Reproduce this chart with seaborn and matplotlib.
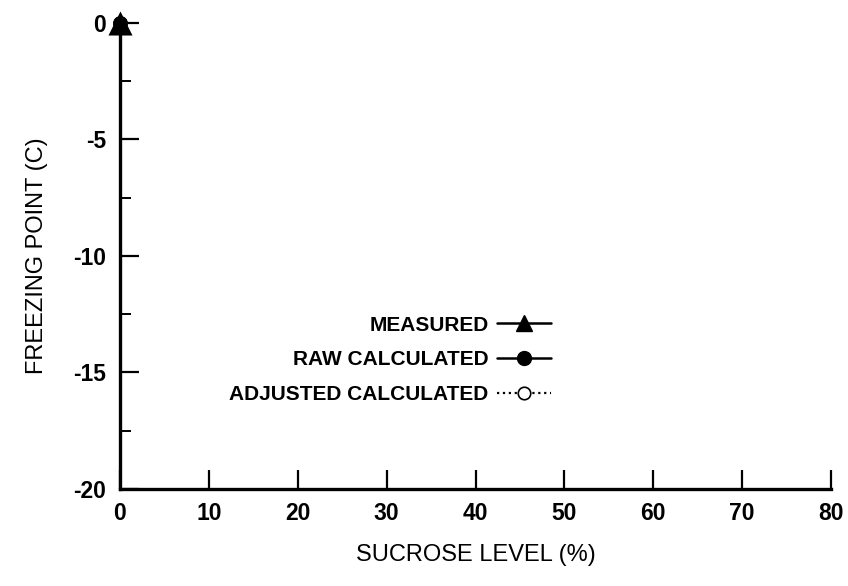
import matplotlib
matplotlib.use('Agg')
import matplotlib.pyplot as plt
import seaborn as sns
import pandas as pd
from matplotlib.lines import Line2D

# === DATA ===
sucrose_measured = [0]
fp_measured = [0]
sucrose_raw = [0]
fp_raw = [0]
sucrose_adjusted = [0]
fp_adjusted = [0]

series_labels = ["MEASURED", "RAW CALCULATED", "ADJUSTED CALCULATED"]
x_ticks = [0, 10, 20, 30, 40, 50, 60, 70, 80]
y_ticks = [0, -5, -10, -15, -20]
y_minor = [-2.5, -7.5, -12.5, -17.5]

sns.set_theme(style='ticks')
plt.rcParams['font.family'] = ['Liberation Sans', 'DejaVu Sans']
plt.rcParams.update({'text.color': 'black', 'axes.labelcolor': 'black',
                     'xtick.color': 'black', 'ytick.color': 'black'})

fig = plt.figure(figsize=(8.48, 5.86), dpi=100)
ax = fig.add_axes([0.1415, 0.1655, 0.8385, 0.7955])

df_raw = pd.DataFrame({"x": sucrose_raw, "y": fp_raw})
df_meas = pd.DataFrame({"x": sucrose_measured, "y": fp_measured})
df_adj = pd.DataFrame({"x": sucrose_adjusted, "y": fp_adjusted})

sns.scatterplot(data=df_adj, x="x", y="y", ax=ax, marker='o', s=90,
                facecolor='white', edgecolor='black', linewidth=1.2, clip_on=False, zorder=3)
sns.scatterplot(data=df_raw, x="x", y="y", ax=ax, marker='o', s=110,
                color='black', linewidth=0, clip_on=False, zorder=4)
sns.scatterplot(data=df_meas, x="x", y="y", ax=ax, marker='^', s=300,
                color='black', linewidth=0, clip_on=False, zorder=5)

ax.set_xlim(0, 80)
ax.set_ylim(-20, 0)
ax.set_xticks(x_ticks)
ax.set_yticks(y_ticks)
ax.set_yticks(y_minor, minor=True)
ax.set_xticklabels([str(t) for t in x_ticks], fontsize=16.5, fontweight='bold')
ax.set_yticklabels([str(t) for t in y_ticks], fontsize=16.5, fontweight='bold')
ax.tick_params(axis='x', which='major', direction='in', length=14, width=1.6, pad=9)
ax.tick_params(axis='y', which='major', direction='in', length=14, width=1.6, pad=10)
ax.tick_params(axis='y', which='minor', direction='in', length=8, width=1.4)

for side in ['top', 'right']:
    ax.spines[side].set_visible(False)
for side in ['left', 'bottom']:
    ax.spines[side].set_linewidth(2.4)
    ax.spines[side].set_color('black')

ax.set_xlabel("SUCROSE LEVEL (%)", fontsize=17, labelpad=14)
ax.set_ylabel("FREEZING POINT (C)", fontsize=17, labelpad=18)

handles = [
    Line2D([], [], color='black', lw=1.8, marker='^', markersize=11),
    Line2D([], [], color='black', lw=1.8, marker='o', markersize=10),
    Line2D([], [], color='black', lw=1.6, ls=':', marker='o', markersize=9,
           markerfacecolor='white', markeredgewidth=1.2),
]
leg = ax.legend(handles, series_labels, loc='center right', frameon=False,
                markerfirst=False, bbox_to_anchor=(0.662, 0.386),
                bbox_transform=fig.transFigure, borderpad=0, handlelength=2.6,
                handletextpad=0.4, labelspacing=0.75,
                prop={'size': 15, 'weight': 'bold',
                      'family': ['Liberation Sans Narrow', 'Liberation Sans']})

fig.savefig("out.png", dpi=100, facecolor='white')
